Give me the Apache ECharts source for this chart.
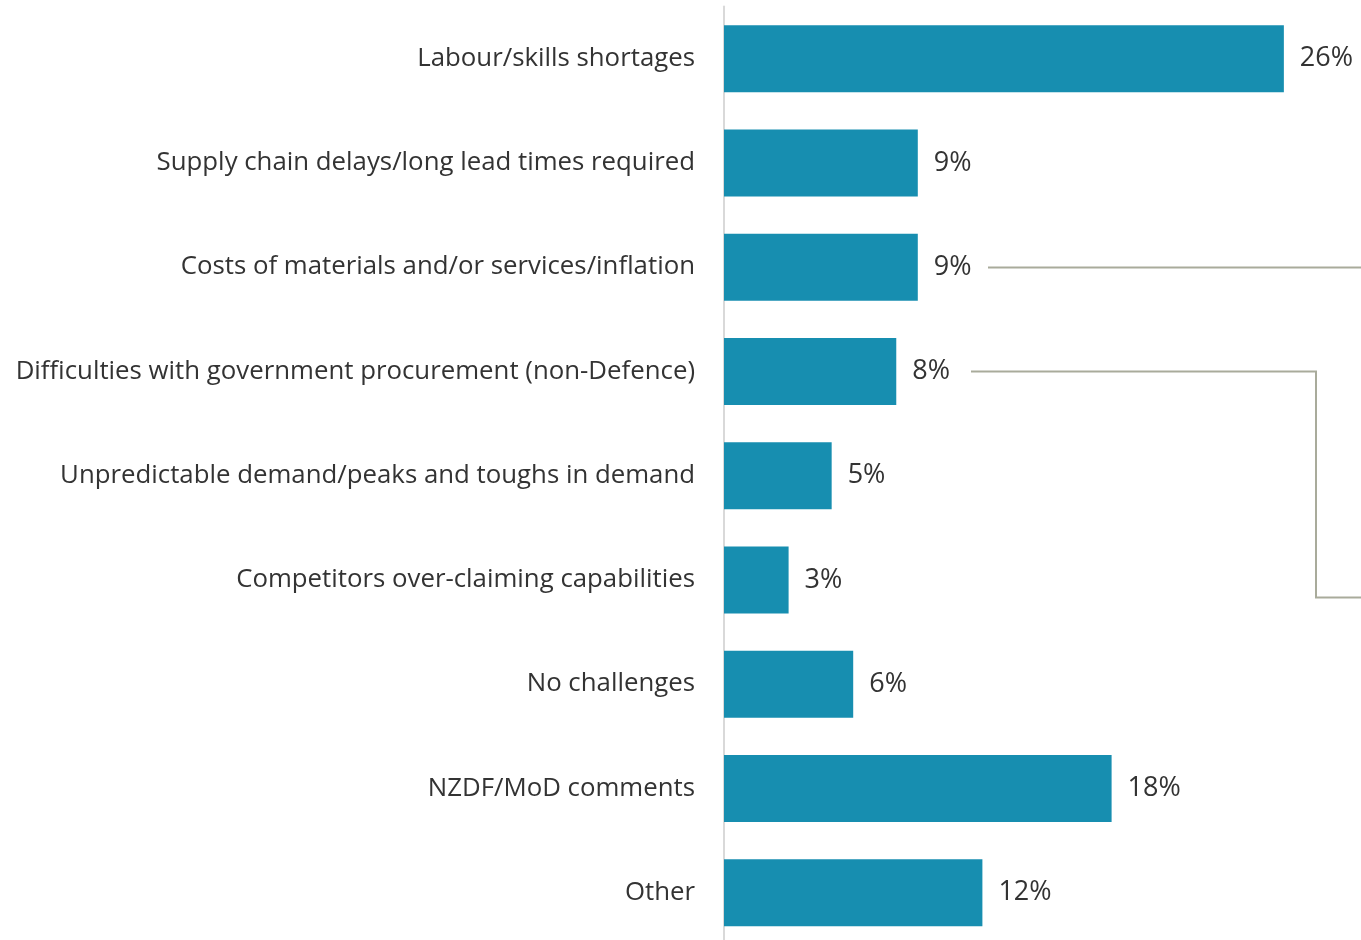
<!DOCTYPE html>
<html>
<head>
<meta charset="utf-8">
<script src="https://cdn.jsdelivr.net/npm/echarts@6/dist/echarts.min.js"></script>
<style>
html,body{margin:0;padding:0;background:#fff;overflow:hidden;}
#main{width:1380px;height:950px;}
</style>
</head>
<body>
<div id="main"></div>
<script>
const categories = [
  "Labour/skills shortages",
  "Supply chain delays/long lead times required",
  "Costs of materials and/or services/inflation",
  "Difficulties with government procurement (non-Defence)",
  "Unpredictable demand/peaks and toughs in demand",
  "Competitors over-claiming capabilities",
  "No challenges",
  "NZDF/MoD comments",
  "Other"
];
const values = [26, 9, 9, 8, 5, 3, 6, 18, 12];

const chart = echarts.init(document.getElementById('main'), null, {renderer: 'canvas'});
const FONT = '"Open Sans", "Noto Sans", sans-serif';
const lineColor = '#A9AB9B';

chart.setOption({
  animation: false,
  backgroundColor: '#ffffff',
  grid: { left: 724, top: 6.5, width: 646, height: 938.25, containLabel: false },
  xAxis: {
    type: 'value', min: 0, max: 30,
    show: false
  },
  yAxis: {
    type: 'category',
    data: categories,
    inverse: true,
    axisLine: { show: true, lineStyle: { color: '#D9D9D9', width: 2 } },
    axisTick: { show: false },
    axisLabel: { color: '#333333', fontSize: 25.8, fontFamily: FONT, margin: 29, padding: [2, 0, 0, 0] }
  },
  series: [{
    type: 'bar',
    data: values,
    barWidth: 67,
    itemStyle: { color: '#178EB0' },
    label: {
      show: true, position: 'right', distance: 16,
      formatter: '{c}%',
      color: '#333333', fontSize: 27, fontFamily: FONT, padding: [3, 0, 0, 0]
    }
  }],
  graphic: [
    { type: 'polyline', shape: { points: [[988, 267.5], [1361, 267.5]] },
      style: { stroke: lineColor, lineWidth: 2, fill: null } },
    { type: 'polyline', shape: { points: [[971, 371.5], [1316, 371.5], [1316, 597.5], [1361, 597.5]] },
      style: { stroke: lineColor, lineWidth: 2, fill: null } }
  ]
});
</script>
</body>
</html>
